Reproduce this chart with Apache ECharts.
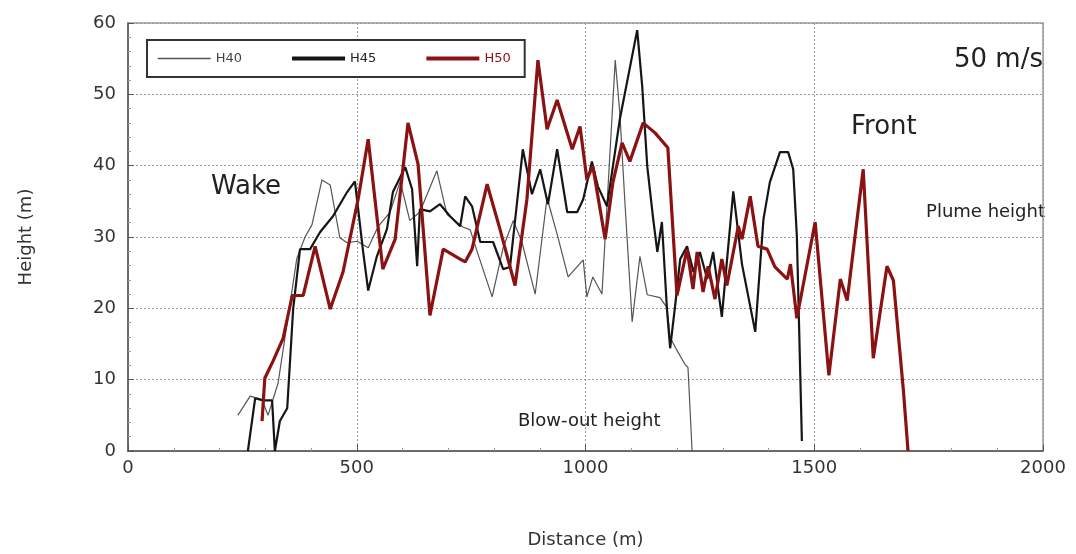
<!DOCTYPE html>
<html>
<head>
<meta charset="utf-8">
<script src="https://cdn.jsdelivr.net/npm/echarts@6/dist/echarts.min.js"></script>
<style>
  html, body { margin: 0; padding: 0; background: #fff; }
  #chart { width: 1076px; height: 554px; }
</style>
</head>
<body>
<div id="chart"></div>
<script>
// distance (m), height (m)
const h40 = [
  [240, 5.0], [267, 7.7], [293, 7.2], [306, 5.0], [328, 9.5], [348, 18], [369, 27],
  [387, 30], [402, 31.7], [424, 38.0], [442, 37.3], [463, 29.9], [479, 29.2], [501, 29.4],
  [525, 28.5], [547, 31.5], [573, 33.5], [595, 37.8], [616, 32.3], [638, 33.5], [675, 39.3],
  [697, 33.2], [732, 31.4], [748, 31.0], [765, 27.6], [796, 21.6], [820, 28.5], [842, 32.3],
  [861, 29.3], [890, 22.0], [916, 35.5], [940, 29.9], [962, 24.4], [995, 26.8], [1003, 21.6],
  [1016, 24.4], [1036, 22.0], [1065, 54.8], [1075, 47.4], [1086, 35.0], [1102, 18.1],
  [1119, 27.3], [1135, 21.9], [1163, 21.5], [1178, 20.1], [1185, 15.9], [1200, 14.1],
  [1218, 12.1], [1224, 11.7], [1233, 0]
];
const h45 = [
  [262, 0], [278, 7.4], [295, 7.1], [315, 7.1], [321, 0], [332, 4.2], [348, 6.0], [361, 19.9],
  [376, 28.3], [398, 28.3], [420, 30.7], [448, 32.9], [479, 36.3], [496, 37.8], [514, 27.9],
  [525, 22.5], [544, 27.3], [566, 31.1], [579, 36.3], [606, 39.8], [621, 36.7], [632, 25.9],
  [638, 33.9], [660, 33.6], [682, 34.6], [704, 32.9], [726, 31.5], [737, 35.7], [752, 34.3],
  [770, 29.3], [798, 29.3], [820, 25.5], [835, 25.8], [863, 42.3], [883, 36.0], [901, 39.5],
  [918, 34.6], [938, 42.3], [960, 33.5], [982, 33.5], [995, 35.3], [1014, 40.6], [1027, 37.1],
  [1047, 34.3], [1075, 46.5], [1113, 59.0], [1124, 51.1], [1135, 39.9], [1148, 32.5],
  [1157, 27.9], [1167, 32.1], [1178, 19.9], [1185, 14.4], [1196, 20.4], [1207, 26.9],
  [1222, 28.7], [1236, 25.1], [1250, 27.9], [1266, 24.1], [1279, 27.9], [1298, 18.8],
  [1323, 36.4], [1342, 26.2], [1371, 16.7], [1389, 32.5], [1403, 37.7], [1425, 41.9],
  [1443, 41.9], [1454, 39.5], [1462, 30.1], [1473, 1.4]
];
const h50 = [
  [293, 4.2], [299, 10.2], [317, 12.6], [339, 15.8], [359, 21.8], [383, 21.8], [409, 28.7],
  [442, 19.9], [470, 25.1], [503, 35.3], [525, 43.7], [557, 25.5], [584, 29.7], [612, 46.0],
  [634, 40.2], [660, 19.0], [689, 28.3], [726, 26.9], [737, 26.5], [752, 28.3], [785, 37.4],
  [813, 31.1], [846, 23.2], [872, 35.3], [896, 54.8], [916, 45.1], [938, 49.2], [971, 42.3],
  [988, 45.5], [1003, 38.1], [1016, 39.9], [1043, 29.7], [1060, 37.7], [1080, 43.2],
  [1097, 40.6], [1126, 46.0], [1152, 44.6], [1180, 42.5], [1200, 21.8], [1222, 28.3],
  [1235, 22.7], [1244, 27.9], [1257, 22.3], [1268, 25.9], [1283, 21.3], [1298, 26.9],
  [1309, 23.2], [1334, 31.5], [1342, 29.7], [1360, 35.7], [1377, 28.7], [1397, 28.3],
  [1414, 25.8], [1441, 24.1], [1448, 26.2], [1462, 18.6], [1502, 32.1], [1532, 10.6],
  [1557, 24.1], [1572, 21.1], [1607, 39.5], [1629, 13.0], [1659, 25.9], [1673, 23.9],
  [1695, 8.4], [1705, 0]
];

const font = 'DejaVu Sans';
const chart = echarts.init(document.getElementById('chart'), null, { renderer: 'canvas' });

const gridLine = { show: true, lineStyle: { color: '#9a9a9a', type: [2, 2], width: 1 } };

chart.setOption({
  animation: false,
  grid: {
    left: 128, right: 33, top: 23, bottom: 99,
    show: true, borderColor: '#999', borderWidth: 1.5
  },
  legend: {
    left: 147, top: 40, width: 378, height: 38,
    itemWidth: 53, itemHeight: 14, itemGap: 48,
    padding: [12, 14, 12, 10],
    backgroundColor: '#fff', borderColor: '#333', borderWidth: 2, borderRadius: 0,
    itemStyle: { opacity: 0 },
    textStyle: { fontFamily: font, fontSize: 13, color: '#444' },
    data: [
      { name: 'H40', lineStyle: { width: 1.5 } },
      { name: 'H45', lineStyle: { width: 4 }, textStyle: { color: '#222' } },
      { name: 'H50', lineStyle: { width: 4 }, textStyle: { color: '#8b1212' } }
    ]
  },
  xAxis: {
    type: 'value', min: 0, max: 2000, interval: 500,
    name: 'Distance (m)', nameLocation: 'middle', nameGap: 80,
    nameTextStyle: { fontFamily: font, fontSize: 18, color: '#333' },
    axisLine: { lineStyle: { color: '#555', width: 1.5 } },
    axisTick: { show: true, inside: true, length: 6, lineStyle: { color: '#555' } },
    minorTick: { show: true, splitNumber: 5, length: 3, lineStyle: { color: '#999' } },
    axisLabel: { fontFamily: font, fontSize: 18, color: '#333', margin: 8, formatter: v => String(v) },
    splitLine: gridLine
  },
  yAxis: {
    type: 'value', min: 0, max: 60, interval: 10,
    name: 'Height (m)', nameLocation: 'middle', nameGap: 93,
    nameTextStyle: { fontFamily: font, fontSize: 18, color: '#333' },
    axisLine: { show: true, lineStyle: { color: '#555', width: 1.5 } },
    axisTick: { show: true, inside: true, length: 6, lineStyle: { color: '#555' } },
    minorTick: { show: true, splitNumber: 5, length: 3, lineStyle: { color: '#999' } },
    axisLabel: { fontFamily: font, fontSize: 18, color: '#333', margin: 12 },
    splitLine: gridLine
  },
  series: [
    {
      name: 'H40', type: 'line', data: h40, symbol: 'none',
      lineStyle: { color: '#555', width: 1.2 }, itemStyle: { color: '#555' }
    },
    {
      name: 'H45', type: 'line', data: h45, symbol: 'none',
      lineStyle: { color: '#151515', width: 2.2 }, itemStyle: { color: '#151515' }
    },
    {
      name: 'H50', type: 'line', data: h50, symbol: 'none',
      lineStyle: { color: '#8b1212', width: 3.2 }, itemStyle: { color: '#8b1212' }
    }
  ],
  graphic: [
    { type: 'text', left: 211, top: 174, style: { text: 'Wake', font: '26px "DejaVu Sans"', fill: '#222' } },
    { type: 'text', left: 851, top: 114, style: { text: 'Front', font: '26px "DejaVu Sans"', fill: '#222' } },
    { type: 'text', right: 33, top: 47, style: { text: '50 m/s', font: '26px "DejaVu Sans"', fill: '#222' } },
    { type: 'text', right: 31, top: 203, style: { text: 'Plume height', font: '18px "DejaVu Sans"', fill: '#222' } },
    { type: 'text', left: 518, top: 412, style: { text: 'Blow-out height', font: '18px "DejaVu Sans"', fill: '#222' } }
  ]
});
</script>
</body>
</html>
